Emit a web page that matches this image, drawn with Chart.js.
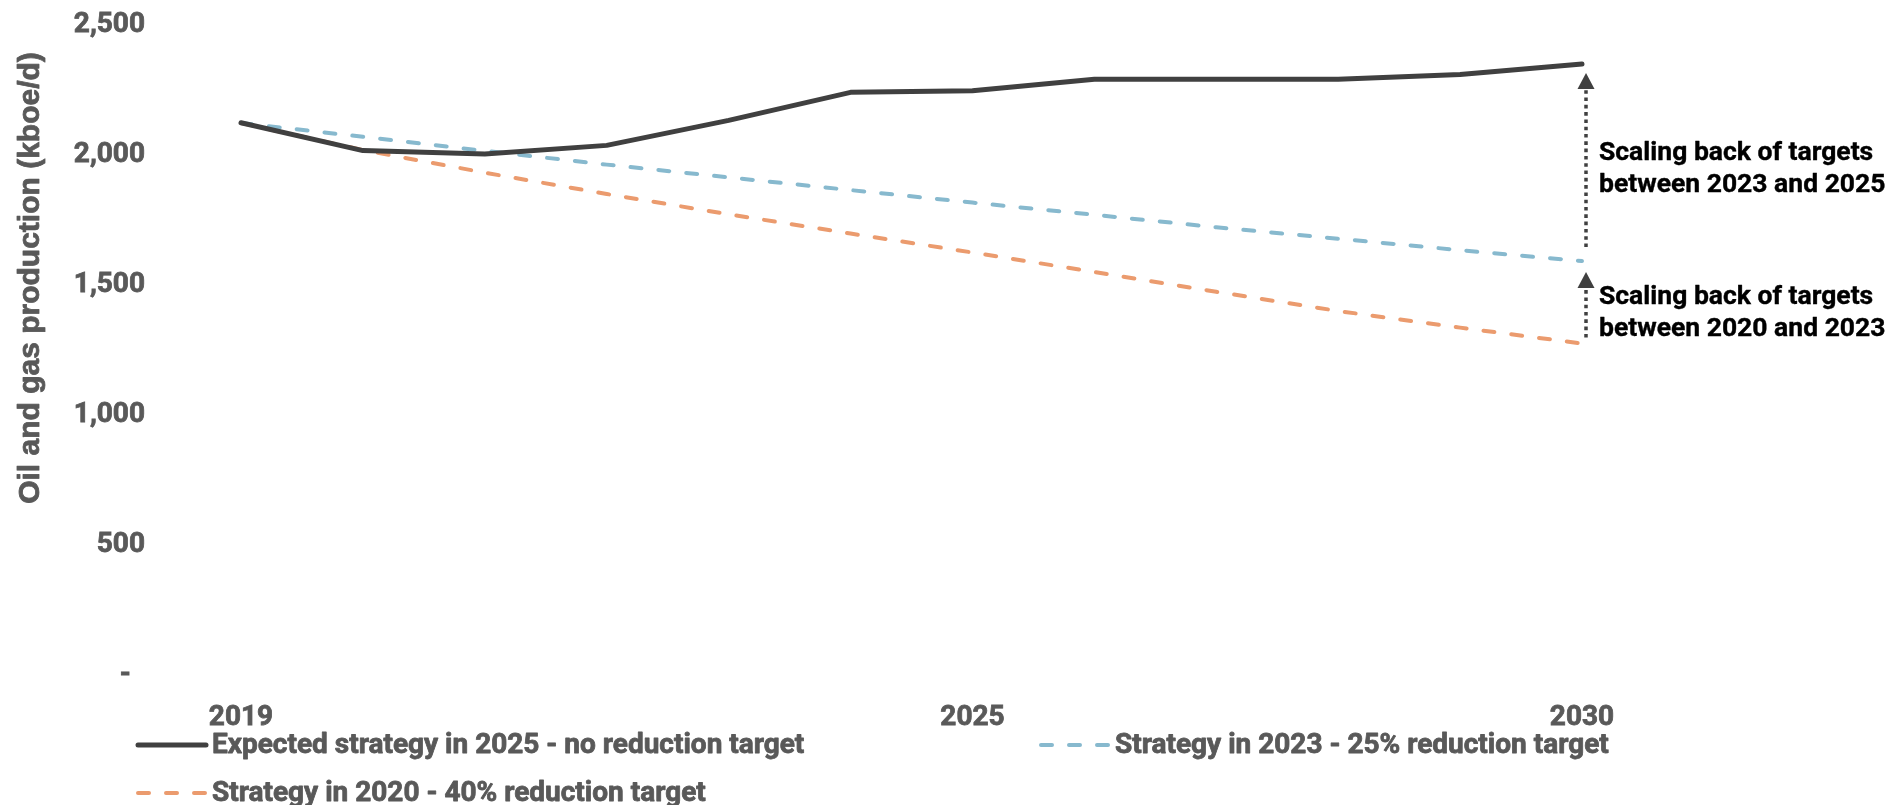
<!DOCTYPE html>
<html>
<head>
<meta charset="utf-8">
<script src="https://cdn.jsdelivr.net/npm/chart.js@4"></script>
<style>
    body { margin: 0; background: #fff; }
    #wrap { width: 1893px; height: 805px; }
</style>
</head>
<body>
<div id="wrap"><canvas id="prodChart" width="1893" height="805"></canvas></div>

<script>
    // production outlook, kboe/d
    var years = [2019, 2020, 2021, 2022, 2023, 2024, 2025, 2026, 2027, 2028, 2029, 2030];
    var expected2025 = [2124, 2017, 2004, 2037, 2133, 2241, 2247, 2291, 2291, 2291, 2310, 2350];
    var strategy2023 = [2123, 2070, 2016, 1963, 1914, 1865, 1817, 1770, 1722, 1678, 1634, 1592];
    var strategy2020 = [2123, 2019, 1932, 1850, 1772, 1698, 1625, 1550, 1474, 1400, 1336, 1275];
    var yearTicks = [2019, 2025, 2030];
    var seriesNames = [
        'Expected strategy in 2025 - no reduction target',
        'Strategy in 2023 - 25% reduction target',
        'Strategy in 2020 - 40% reduction target'
    ];
    var yTitle = 'Oil and gas production (kboe/d)';
    var noteUpper = ['Scaling back of targets', 'between 2023 and 2025'];
    var noteLower = ['Scaling back of targets', 'between 2020 and 2023'];

    var grey = '#595959';
    var ink = '#404040';

    function points(values) {
        return years.map(function (y, i) { return { x: y, y: values[i] }; });
    }

    // heavy text: fill plus a thin stroke in the same colour
    function heavyText(ctx, text, x, y, color, weight) {
        ctx.fillStyle = color;
        ctx.strokeStyle = color;
        ctx.lineWidth = weight;
        ctx.lineJoin = 'round';
        ctx.fillText(text, x, y);
        ctx.strokeText(text, x, y);
    }

    // y title, legend and the two arrows with their notes
    var extras = {
        id: 'extras',
        afterDraw: function (chart) {
            var ctx = chart.ctx;
            var xs = chart.scales.x, ys = chart.scales.y;
            var last = years.length - 1;

            ctx.save();
            ctx.font = 'bold 30px "Liberation Sans", Arial, sans-serif';
            ctx.textAlign = 'center';
            ctx.textBaseline = 'middle';
            ctx.translate(31, 278);
            ctx.rotate(-Math.PI / 2);
            heavyText(ctx, yTitle, 0, 0, grey, 0.8);
            ctx.restore();

            // arrows
            var ax = xs.getPixelForValue(years[last]) + 4;
            var yBlack = ys.getPixelForValue(expected2025[last]);
            var yBlue = ys.getPixelForValue(strategy2023[last]);
            var yOrange = ys.getPixelForValue(strategy2020[last]);

            function arrow(top, bottom) {
                var head = 16;
                ctx.save();
                ctx.strokeStyle = ink;
                ctx.fillStyle = ink;
                ctx.lineWidth = 3.5;
                ctx.setLineDash([3.6, 3.7]);
                ctx.beginPath();
                ctx.moveTo(ax, bottom);
                ctx.lineTo(ax, top + head);
                ctx.stroke();
                ctx.beginPath();
                ctx.moveTo(ax, top);
                ctx.lineTo(ax - 8.5, top + head);
                ctx.lineTo(ax + 8.5, top + head);
                ctx.closePath();
                ctx.fill();
                ctx.restore();
            }

            function note(lines, mid) {
                ctx.save();
                ctx.font = 'bold 26.5px Roboto, sans-serif';
                ctx.textAlign = 'left';
                ctx.textBaseline = 'middle';
                heavyText(ctx, lines[0], ax + 13, mid - 16, '#000', 0.4);
                heavyText(ctx, lines[1], ax + 13, mid + 16, '#000', 0.4);
                ctx.restore();
            }

            arrow(yBlack + 9, yBlue - 14);
            note(noteUpper, (yBlack + yBlue) / 2 + 7);
            arrow(yBlue + 11, yOrange - 6);
            note(noteLower, (yBlue + yOrange) / 2 + 11);

            // legend
            var slots = [{ x: 136, y: 745 }, { x: 1039, y: 745 }, { x: 136, y: 793 }];
            chart.data.datasets.forEach(function (ds, i) {
                var s = slots[i];
                ctx.save();
                ctx.strokeStyle = ds.borderColor;
                ctx.lineWidth = ds.borderWidth;
                ctx.lineCap = 'round';
                ctx.setLineDash(ds.borderDash || []);
                ctx.beginPath();
                ctx.moveTo(s.x + 2, s.y);
                ctx.lineTo(s.x + 70, s.y);
                ctx.stroke();
                ctx.setLineDash([]);
                ctx.font = 'bold 28px Roboto, sans-serif';
                ctx.textAlign = 'left';
                ctx.textBaseline = 'middle';
                heavyText(ctx, ds.label, s.x + 76, s.y + 1, grey, 0.8);
                ctx.restore();
            });
        }
    };

    var chart = new Chart(document.getElementById('prodChart').getContext('2d'), {
        type: 'line',
        data: {
            datasets: [
                {
                    label: seriesNames[0],
                    data: points(expected2025),
                    borderColor: ink,
                    borderWidth: 5,
                    borderJoinStyle: 'round',
                    borderCapStyle: 'round'
                },
                {
                    label: seriesNames[1],
                    data: points(strategy2023),
                    borderColor: '#87b9ce',
                    borderWidth: 4,
                    borderDash: [11, 17],
                    borderCapStyle: 'round'
                },
                {
                    label: seriesNames[2],
                    data: points(strategy2020),
                    borderColor: '#eb9b6e',
                    borderWidth: 4,
                    borderDash: [11, 17],
                    borderCapStyle: 'round'
                }
            ]
        },
        options: {
            responsive: false,
            animation: false,
            devicePixelRatio: 1,
            clip: false,
            elements: { point: { radius: 0 }, line: { tension: 0 } },
            layout: { padding: { top: 25, right: 311, bottom: 0, left: 0 } },
            plugins: {
                legend: { display: false },
                tooltip: { enabled: false }
            },
            scales: {
                x: {
                    type: 'linear',
                    min: years[0],
                    max: years[years.length - 1],
                    grid: { display: false, drawTicks: false },
                    border: { display: false },
                    afterBuildTicks: function (scale) {
                        scale.ticks = yearTicks.map(function (v) { return { value: v }; });
                    },
                    afterFit: function (scale) { scale.height = 130; },
                    ticks: {
                        padding: 26,
                        maxRotation: 0,
                        autoSkip: false,
                        color: grey,
                        textStrokeColor: grey,
                        textStrokeWidth: 0.8,
                        font: { family: 'Roboto', size: 28, weight: 'bold' },
                        callback: function (v) { return String(v); }
                    }
                },
                y: {
                    min: 0,
                    max: 2500,
                    grid: { display: false, drawTicks: false },
                    border: { display: false },
                    afterFit: function (scale) {
                        // labels sit far from the plot; keep that gap out of the vertical padding
                        scale.width = 241;
                        scale.paddingTop = 0;
                        scale.paddingBottom = 0;
                    },
                    ticks: {
                        stepSize: 500,
                        padding: 96,
                        color: grey,
                        textStrokeColor: grey,
                        textStrokeWidth: 0.8,
                        font: { family: 'Roboto', size: 28, weight: 'bold' },
                        callback: function (v) {
                            return v === 0 ? '-\u2002' : v.toLocaleString('en-US');
                        }
                    }
                }
            }
        },
        plugins: [extras]
    });
</script>
</body>
</html>
